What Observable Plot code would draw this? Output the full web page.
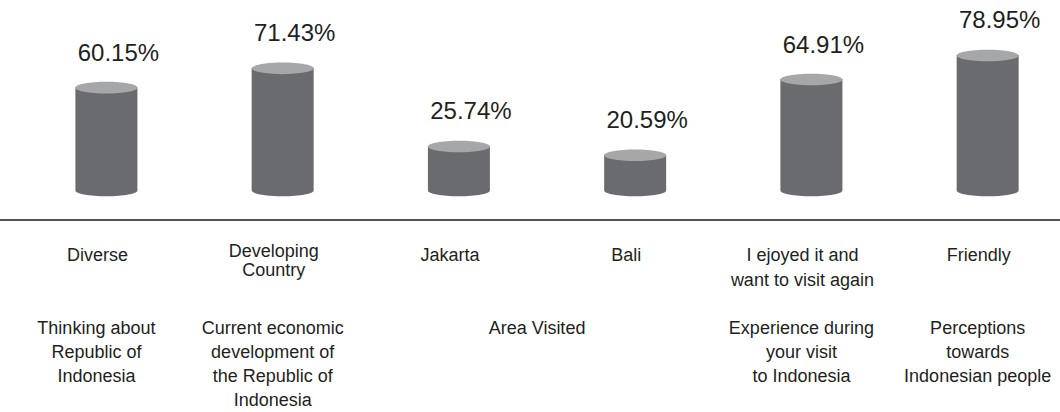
<!DOCTYPE html>
<html>
<head>
<meta charset="utf-8">
<script src="https://cdn.jsdelivr.net/npm/d3@7"></script>
<script src="https://cdn.jsdelivr.net/npm/@observablehq/plot@0.6"></script>
<style>
  html, body { margin: 0; padding: 0; background: #fff; }
  #chart svg { display: block; }
</style>
</head>
<body>
<div id="chart"></div>
<script>
const categories = ["Diverse", "Developing\nCountry", "Jakarta", "Bali", "I ejoyed it and\nwant to visit again", "Friendly"];
const values = [60.15, 71.43, 25.74, 20.59, 64.91, 78.95];
const groupNames = [
  "Thinking about\nRepublic of\nIndonesia",
  "Current economic\ndevelopment of\nthe Republic of\nIndonesia",
  "Area Visited",
  "Experience during\nyour visit\nto Indonesia",
  "Perceptions\ntowards\nIndonesian people"
];
const groupOf = [0, 1, 2, 2, 3, 4];

const data = categories.map((c, i) => ({i, category: c, value: values[i], label: values[i].toFixed(2) + "%"}));
const groups = groupNames.map((g, gi) => {
  const members = data.filter(d => groupOf[d.i] === gi);
  return {name: g, i: d3.mean(members, d => d.i)};
});

const ellipse = {
  draw(ctx) {
    const rx = 31, ry = 5.8, k = 0.5523;
    ctx.moveTo(rx, 0);
    ctx.bezierCurveTo(rx, ry * k, rx * k, ry, 0, ry);
    ctx.bezierCurveTo(-rx * k, ry, -rx, ry * k, -rx, 0);
    ctx.bezierCurveTo(-rx, -ry * k, -rx * k, -ry, 0, -ry);
    ctx.bezierCurveTo(rx * k, -ry, rx, -ry * k, rx, 0);
    ctx.closePath();
  }
};

const bodyColor = "#6a6b6f";
const topColor = "#a6a7a9";
const textColor = "#231f20";

const chart = Plot.plot({
  width: 1060,
  height: 412,
  marginLeft: 0,
  marginRight: 0,
  marginTop: 19,
  marginBottom: 222,
  style: {fontFamily: "'Liberation Sans', Arial, sans-serif", background: "#fff"},
  x: {axis: null, domain: [-0.6009, 5.4133]},
  y: {axis: null, domain: [0, 100]},
  marks: [
    Plot.ruleY([0], {dy: 29.5, stroke: "#555", strokeWidth: 2}),
    Plot.dot(data, {x: "i", y: () => 0, symbol: ellipse, r: 5, fill: bodyColor, stroke: "none"}),
    Plot.ruleX(data, {x: "i", y1: () => 0, y2: "value", stroke: bodyColor, strokeWidth: 62}),
    Plot.dot(data, {x: "i", y: "value", symbol: ellipse, r: 5, fill: topColor, stroke: "none"}),
    Plot.text(data, {x: "i", y: "value", text: "label", dy: -27, dx: 12, lineAnchor: "bottom", fontSize: 24, fill: textColor}),
    Plot.text(data.filter(d => d.category.startsWith("Developing")), {x: "i", y: () => 0, text: "category", dy: 53, dx: -9, lineAnchor: "top", lineHeight: 1.05, fontSize: 18, fill: textColor}),
    Plot.text(data.filter(d => !d.category.startsWith("Developing")), {x: "i", y: () => 0, text: "category", dy: 53, dx: -9, lineAnchor: "top", lineHeight: 1.39, fontSize: 18, fill: textColor}),
    Plot.text(groups, {x: "i", y: () => 0, text: "name", dy: 127, dx: -10, lineAnchor: "top", lineHeight: 1.33, fontSize: 18, fill: textColor})
  ]
});
document.getElementById("chart").appendChild(chart);
</script>
</body>
</html>
